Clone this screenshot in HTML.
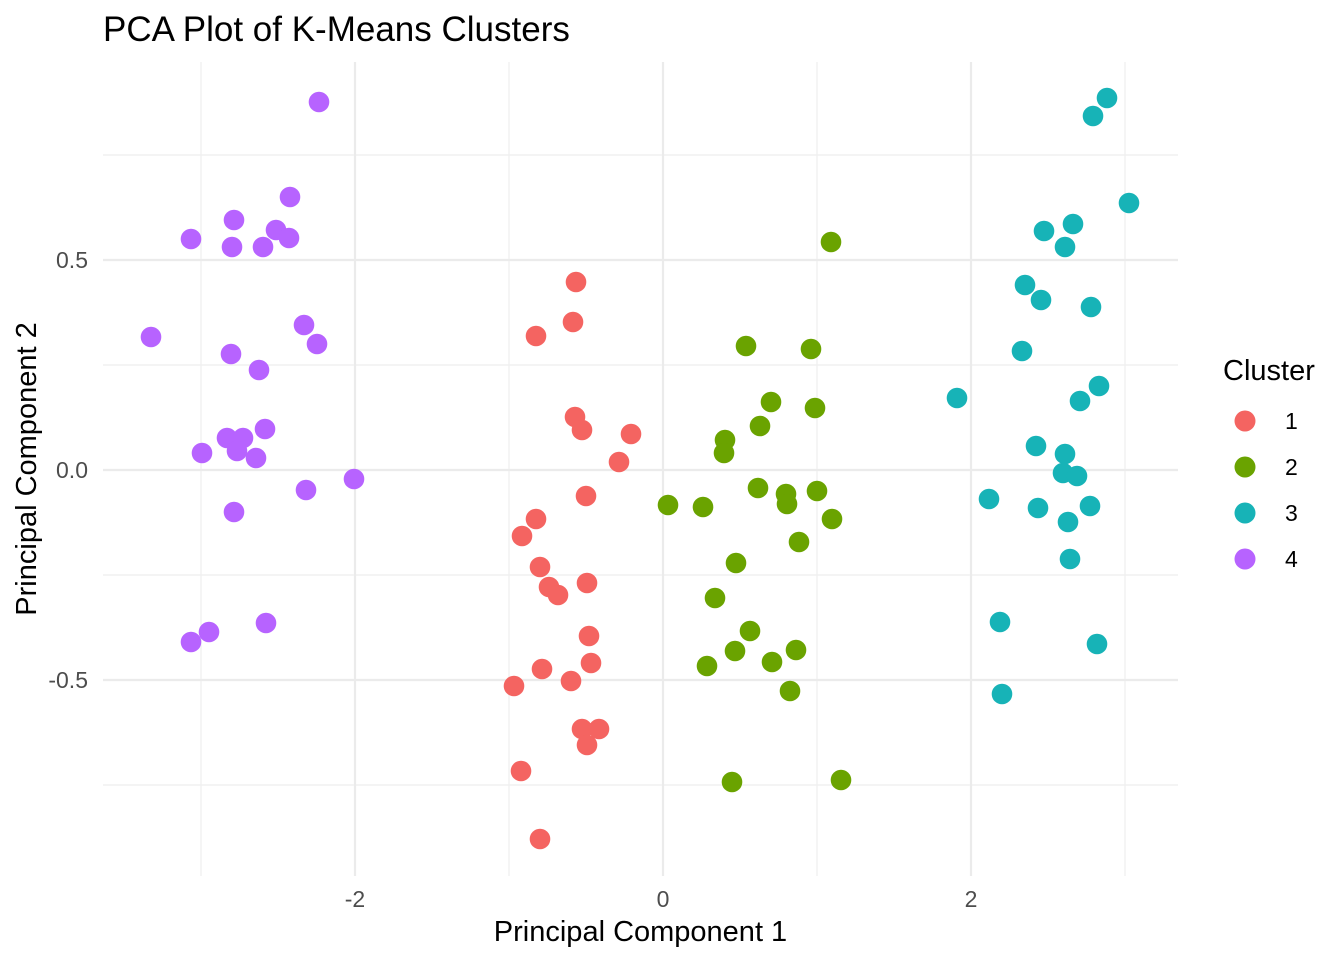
<!DOCTYPE html>
<html>
<head>
<meta charset="utf-8">
<style>
  html, body { margin: 0; padding: 0; background: #ffffff; }
  svg { display: block; }
  text { font-family: "Liberation Sans", Arial, sans-serif; }
</style>
</head>
<body>
<svg width="1344" height="960" viewBox="0 0 1344 960" xmlns="http://www.w3.org/2000/svg">
  <rect x="0" y="0" width="1344" height="960" fill="#ffffff"/>

  <!-- minor gridlines -->
  <g stroke="#EEEEEE" stroke-width="1.2" fill="none">
    <line x1="201" y1="62" x2="201" y2="876"/>
    <line x1="509" y1="62" x2="509" y2="876"/>
    <line x1="817" y1="62" x2="817" y2="876"/>
    <line x1="1125" y1="62" x2="1125" y2="876"/>
    <line x1="103" y1="155" x2="1178" y2="155"/>
    <line x1="103" y1="365" x2="1178" y2="365"/>
    <line x1="103" y1="575" x2="1178" y2="575"/>
    <line x1="103" y1="785" x2="1178" y2="785"/>
  </g>
  <!-- major gridlines -->
  <g stroke="#EBEBEB" stroke-width="2.2" fill="none">
    <line x1="355" y1="62" x2="355" y2="876"/>
    <line x1="663" y1="62" x2="663" y2="876"/>
    <line x1="971" y1="62" x2="971" y2="876"/>
    <line x1="103" y1="260" x2="1178" y2="260"/>
    <line x1="103" y1="470" x2="1178" y2="470"/>
    <line x1="103" y1="680" x2="1178" y2="680"/>
  </g>

  <!-- Cluster 1 -->
  <g fill="#F46461">
    <circle cx="576" cy="282" r="10.3"/>
    <circle cx="573" cy="322" r="10.3"/>
    <circle cx="536" cy="336" r="10.3"/>
    <circle cx="575" cy="417" r="10.3"/>
    <circle cx="582" cy="430" r="10.3"/>
    <circle cx="631" cy="434" r="10.3"/>
    <circle cx="619" cy="462" r="10.3"/>
    <circle cx="586" cy="496" r="10.3"/>
    <circle cx="536" cy="519" r="10.3"/>
    <circle cx="522" cy="536" r="10.3"/>
    <circle cx="540" cy="567" r="10.3"/>
    <circle cx="549" cy="587" r="10.3"/>
    <circle cx="558" cy="595" r="10.3"/>
    <circle cx="587" cy="583" r="10.3"/>
    <circle cx="589" cy="636" r="10.3"/>
    <circle cx="591" cy="663" r="10.3"/>
    <circle cx="542" cy="669" r="10.3"/>
    <circle cx="571" cy="681" r="10.3"/>
    <circle cx="514" cy="686" r="10.3"/>
    <circle cx="582" cy="729" r="10.3"/>
    <circle cx="599" cy="729" r="10.3"/>
    <circle cx="587" cy="745" r="10.3"/>
    <circle cx="521" cy="771" r="10.3"/>
    <circle cx="540" cy="839" r="10.3"/>
  </g>

  <!-- Cluster 2 -->
  <g fill="#6AA300">
    <circle cx="831" cy="242" r="10.3"/>
    <circle cx="746" cy="346" r="10.3"/>
    <circle cx="811" cy="349" r="10.3"/>
    <circle cx="771" cy="402" r="10.3"/>
    <circle cx="815" cy="408" r="10.3"/>
    <circle cx="760" cy="426" r="10.3"/>
    <circle cx="725" cy="440" r="10.3"/>
    <circle cx="724" cy="453" r="10.3"/>
    <circle cx="668" cy="505" r="10.3"/>
    <circle cx="703" cy="507" r="10.3"/>
    <circle cx="758" cy="488" r="10.3"/>
    <circle cx="786" cy="494" r="10.3"/>
    <circle cx="787" cy="504" r="10.3"/>
    <circle cx="817" cy="491" r="10.3"/>
    <circle cx="832" cy="519" r="10.3"/>
    <circle cx="799" cy="542" r="10.3"/>
    <circle cx="736" cy="563" r="10.3"/>
    <circle cx="715" cy="598" r="10.3"/>
    <circle cx="750" cy="631" r="10.3"/>
    <circle cx="735" cy="651" r="10.3"/>
    <circle cx="707" cy="666" r="10.3"/>
    <circle cx="772" cy="662" r="10.3"/>
    <circle cx="796" cy="650" r="10.3"/>
    <circle cx="790" cy="691" r="10.3"/>
    <circle cx="732" cy="782" r="10.3"/>
    <circle cx="841" cy="780" r="10.3"/>
  </g>

  <!-- Cluster 3 -->
  <g fill="#17B3B7">
    <circle cx="1107" cy="98" r="10.3"/>
    <circle cx="1093" cy="116" r="10.3"/>
    <circle cx="1129" cy="203" r="10.3"/>
    <circle cx="1073" cy="224" r="10.3"/>
    <circle cx="1044" cy="231" r="10.3"/>
    <circle cx="1065" cy="247" r="10.3"/>
    <circle cx="1025" cy="285" r="10.3"/>
    <circle cx="1041" cy="300" r="10.3"/>
    <circle cx="1091" cy="307" r="10.3"/>
    <circle cx="1022" cy="351" r="10.3"/>
    <circle cx="957" cy="398" r="10.3"/>
    <circle cx="1099" cy="386" r="10.3"/>
    <circle cx="1080" cy="401" r="10.3"/>
    <circle cx="1036" cy="446" r="10.3"/>
    <circle cx="1065" cy="454" r="10.3"/>
    <circle cx="1063" cy="473" r="10.3"/>
    <circle cx="1077" cy="476" r="10.3"/>
    <circle cx="989" cy="499" r="10.3"/>
    <circle cx="1038" cy="508" r="10.3"/>
    <circle cx="1090" cy="506" r="10.3"/>
    <circle cx="1068" cy="522" r="10.3"/>
    <circle cx="1070" cy="559" r="10.3"/>
    <circle cx="1000" cy="622" r="10.3"/>
    <circle cx="1097" cy="644" r="10.3"/>
    <circle cx="1002" cy="694" r="10.3"/>
  </g>

  <!-- Cluster 4 -->
  <g fill="#B763FF">
    <circle cx="319" cy="102" r="10.3"/>
    <circle cx="290" cy="197" r="10.3"/>
    <circle cx="234" cy="220" r="10.3"/>
    <circle cx="191" cy="239" r="10.3"/>
    <circle cx="232" cy="247" r="10.3"/>
    <circle cx="263" cy="247" r="10.3"/>
    <circle cx="276" cy="230" r="10.3"/>
    <circle cx="289" cy="238" r="10.3"/>
    <circle cx="151" cy="337" r="10.3"/>
    <circle cx="304" cy="325" r="10.3"/>
    <circle cx="317" cy="344" r="10.3"/>
    <circle cx="231" cy="354" r="10.3"/>
    <circle cx="259" cy="370" r="10.3"/>
    <circle cx="265" cy="429" r="10.3"/>
    <circle cx="227" cy="438" r="10.3"/>
    <circle cx="243" cy="438" r="10.3"/>
    <circle cx="237" cy="451" r="10.3"/>
    <circle cx="202" cy="453" r="10.3"/>
    <circle cx="256" cy="458" r="10.3"/>
    <circle cx="306" cy="490" r="10.3"/>
    <circle cx="354" cy="479" r="10.3"/>
    <circle cx="234" cy="512" r="10.3"/>
    <circle cx="266" cy="623" r="10.3"/>
    <circle cx="209" cy="632" r="10.3"/>
    <circle cx="191" cy="642" r="10.3"/>
  </g>

  <!-- Title -->
  <text x="103" y="41" font-size="35" fill="#000000">PCA Plot of K-Means Clusters</text>

  <!-- Y tick labels -->
  <g font-size="23" fill="#4D4D4D" text-anchor="end">
    <text x="88" y="268">0.5</text>
    <text x="88" y="478">0.0</text>
    <text x="88" y="688">-0.5</text>
  </g>

  <!-- X tick labels -->
  <g font-size="23" fill="#4D4D4D" text-anchor="middle">
    <text x="355" y="907">-2</text>
    <text x="663" y="907">0</text>
    <text x="971" y="907">2</text>
  </g>

  <!-- Axis titles -->
  <text x="640.5" y="941" font-size="29" fill="#000000" text-anchor="middle">Principal Component 1</text>
  <text x="0" y="0" font-size="29" fill="#000000" text-anchor="middle" transform="translate(36,469) rotate(-90)">Principal Component 2</text>

  <!-- Legend -->
  <text x="1223" y="380" font-size="29" fill="#000000">Cluster</text>
  <circle cx="1245" cy="421" r="10.5" fill="#F46461"/>
  <circle cx="1245" cy="467" r="10.5" fill="#6AA300"/>
  <circle cx="1245" cy="513" r="10.5" fill="#17B3B7"/>
  <circle cx="1245" cy="559" r="10.5" fill="#B763FF"/>
  <g font-size="23" fill="#000000">
    <text x="1285" y="429">1</text>
    <text x="1285" y="475">2</text>
    <text x="1285" y="521">3</text>
    <text x="1285" y="567">4</text>
  </g>
</svg>
</body>
</html>
